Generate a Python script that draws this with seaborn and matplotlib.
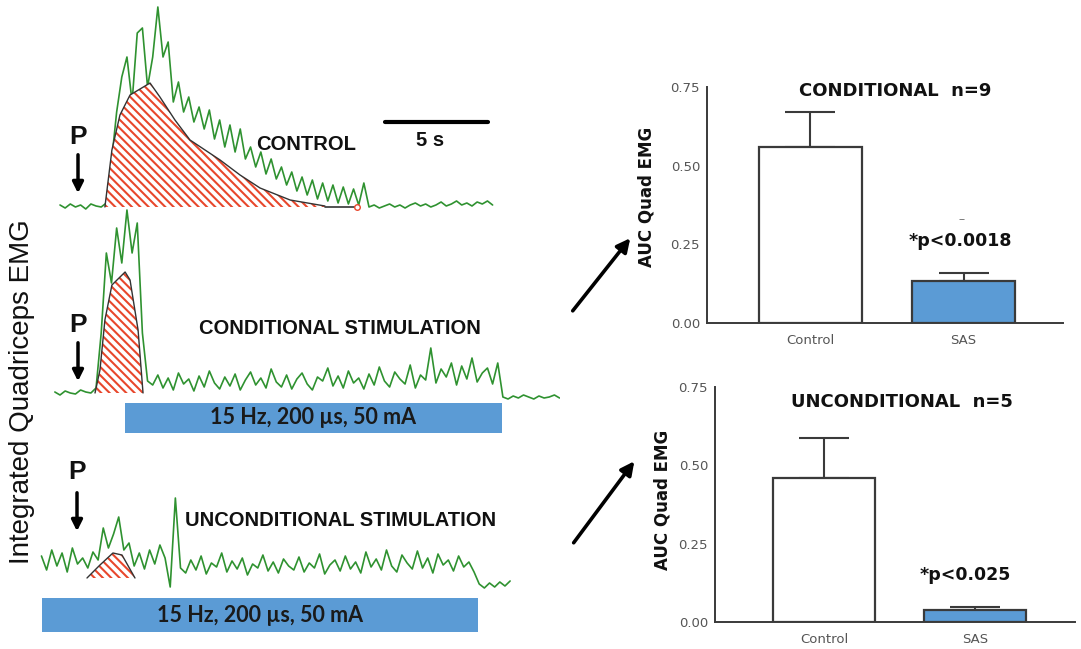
import numpy as np
import pandas as pd
import matplotlib
matplotlib.use("Agg")
import matplotlib.pyplot as plt
from matplotlib.patches import Rectangle
import seaborn as sns

# ---------------- EMG traces (amplitude above baseline, sampled every 0.25 s) ----------------
dt = 0.25

control_t0 = 0.0
control_emg = [2, -1, 3, 0, 2, -2, 3, 1, 0,
               4, 45, 95, 130, 150, 105, 174, 179, 120, 150, 200, 150, 165, 105, 125, 95,
               110, 85, 100, 78, 97, 68, 87, 60, 82, 55, 78, 48, 60, 40, 55, 33, 48, 28,
               40, 22, 35, 16, 30, 12, 27, 8, 24, 6, 22, 4, 20, 3, 18, 2, 24, 0,
               2, -1, 1, 3, 0, 2, -1, 2, 4, 1, 3, 0, 2, 5, 1, 3, 6, 2, 4, 1, 5, 3, 6, 2]

cond_t0 = -0.25
cond_emg = [1, -2, 2, 0, -1, 3, 1, 0,
            5, 60, 140, 110, 165, 130, 183, 140, 170, 60, 12,
            8, 18, 5, 15, 3, 20, 9, 14, 2, 17, 6, 22, 10, 4, 16, 7, 19, 3, 13, 21,
            8, 15, 5, 24, 11, 6, 18, 4, 14, 20, 9, 3, 16, 12, 25, 7, 17, 5, 22, 10,
            15, 4, 19, 8, 26, 12, 6, 21, 14, 9, 28, 5, 18, 13, 45, 10, 24, 16, 30, 8,
            27, 14, 35, 11, 20, 25, 9, 30,
            -4, -6, -3, -5, -2, -4, -6, -3, -5, -4, -2, -5]

uncond_t0 = -0.9
uncond_emg = [22, 8, 28, 12, 25, 6, 30, 14, 20,
              10, 26, 18, 50, 30, 44, 61, 28, 35, 12, 25, 9, 28, 14, 33, 20, -9, 80, 10,
              5, 18, 8, 22, 4, 15, 11, 25, 6, 17, 9, 20, 3, 14, 10, 23, 7, 16, 5, 19,
              12, 8, 21, 6, 15, 10, 24, 4, 13, 18, 7, 22, 9, 16, 5, 26, 11, 19, 8, 28,
              12, 6, 23, 15, 9, 27, 10, 20, 5, 24, 13, 18, 7, 22, 11, 16, 6,
              -6, -10, -5, -9, -4, -8, -3]

# integrated area (AUC) outlines
control_auc_t = [2.18, 2.52, 2.91, 3.40, 4.37, 4.85, 5.58, 6.31, 7.04, 7.77, 8.74, 9.71, 11.17, 12.86]
control_auc_y = [0, 57, 92, 112, 124, 110, 87, 67, 57, 47, 32, 19, 7, 1]
control_tail_t = [12.86, 14.42]
cond_auc_t = [1.70, 1.94, 2.18, 2.52, 3.16, 3.40, 3.79, 4.03]
cond_auc_y = [0, 23, 73, 108, 121, 113, 63, 0]
uncond_auc_t = [1.31, 1.94, 2.57, 3.01, 3.64]
uncond_auc_y = [0, 13, 25, 23, 0]

stim_cond = (3.16, 21.46)
stim_uncond = (-0.87, 20.29)
stim_label = "15 Hz, 200 \u00b5s, 50 mA"
scale_bar_s = 5

# ---------------- AUC bar charts ----------------
groups = ["Control", "SAS"]
cond_mean = [0.56, 0.135]
cond_sem = [0.11, 0.025]
uncond_mean = [0.46, 0.038]
uncond_sem = [0.127, 0.010]

green = "#2f9230"
red = "#e8472c"
blue = "#5b9bd5"
dark = "#3a3a3a"

sns.set_style("white")
plt.rcParams["font.family"] = ["DejaVu Sans"]
plt.rcParams["hatch.linewidth"] = 1.5

W, H = 1081, 649
fig = plt.figure(figsize=(W / 100, H / 100), dpi=100)


def fbox(x0, y0, x1, y1):
    return [x0 / W, 1 - y1 / H, (x1 - x0) / W, (y1 - y0) / H]


xlim_t = ((0 - 60) / 20.6, (560 - 60) / 20.6)


def trace_axes(box, ylim, t0, emg, auc_t, auc_y):
    ax = fig.add_axes(box)
    t = t0 + dt * np.arange(len(emg))
    sns.lineplot(x=t, y=emg, ax=ax, color=green, lw=1.2, estimator=None, sort=False, zorder=2)
    ax.fill_between(auc_t, 0, auc_y, facecolor="white", edgecolor=red, hatch="\\\\\\\\", lw=0, zorder=3)
    ax.plot(auc_t, auc_y, color="#333333", lw=1.0, zorder=4)
    ax.set_xlim(*xlim_t)
    ax.set_ylim(*ylim)
    ax.axis("off")
    return ax


ax_c = trace_axes(fbox(0, 0, 560, 215), (-8, 207), control_t0, control_emg, control_auc_t, control_auc_y)
ax_c.plot(control_tail_t, [0, 0], color="#333333", lw=1.2, zorder=4)
ax_c.plot(control_tail_t[-1:], [0], "o", mfc="white", mec=red, ms=4, zorder=5)
ax_c.plot([15.78, 15.78 + scale_bar_s], [85, 85], color="black", lw=3)

ax_s = trace_axes(fbox(0, 200, 560, 440), (-47, 193), cond_t0, cond_emg, cond_auc_t, cond_auc_y)
ax_s.add_patch(Rectangle((stim_cond[0], -40), stim_cond[1] - stim_cond[0], 30, color=blue, lw=0))

ax_u = trace_axes(fbox(0, 440, 560, 649), (-71, 138), uncond_t0, uncond_emg, uncond_auc_t, uncond_auc_y)
ax_u.add_patch(Rectangle((stim_uncond[0], -54), stim_uncond[1] - stim_uncond[0], 34, color=blue, lw=0))

# overlay in pixel coordinates for annotations
ov = fig.add_axes([0, 0, 1, 1], zorder=10)
ov.set_xlim(0, W)
ov.set_ylim(H, 0)
ov.axis("off")

lab = dict(family="Liberation Sans", fontweight="bold", color="#111111", va="center")
ov.text(306, 145, "CONTROL", ha="center", fontsize=14.5, **lab)
ov.text(430, 140, "5 s", ha="center", fontsize=14.5, **lab)
ov.text(340, 329, "CONDITIONAL STIMULATION", ha="center", fontsize=14.5, **lab)
ov.text(341, 521, "UNCONDITIONAL STIMULATION", ha="center", fontsize=14.5, **lab)
ov.text(22, 392, "Integrated Quadriceps EMG", rotation=90, ha="center", va="center",
        family="Liberation Sans", fontsize=20, color="#111111")

for x, yp, y0, y1 in [(78, 137, 152, 196), (78, 325, 340, 384), (77, 472, 490, 534)]:
    ov.text(x, yp, "P", ha="center", fontsize=19, **lab)
    ov.annotate("", xy=(x, y1), xytext=(x, y0),
                arrowprops=dict(arrowstyle="-|>", color="black", lw=2.5, mutation_scale=16))

stim_kw = dict(family="Lato", fontweight="bold", fontsize=15.5, color="#1a1a1a", ha="center", va="center")
ov.text(313, 418, stim_label, **stim_kw)
ov.text(260, 615, stim_label, **stim_kw)

for p0, p1 in [((571, 313), (632, 236)), ((572, 545), (636, 459))]:
    ov.annotate("", xy=p1, xytext=p0,
                arrowprops=dict(arrowstyle="-|>", color="black", lw=2.6, mutation_scale=20))


def bar_axes(box, xlim, means, sems):
    ax = fig.add_axes(box)
    df = pd.DataFrame({"group": groups, "auc": means})
    sns.barplot(data=df, x="group", y="auc", hue="group", palette=["white", blue], saturation=1,
                edgecolor=dark, linewidth=1.6, width=0.675, errorbar=None, legend=False, ax=ax, zorder=3)
    ax.errorbar([0, 1], means, yerr=[[0, 0], sems], fmt="none", ecolor=dark, elinewidth=1.5,
                capsize=18, capthick=1.5, zorder=2)
    ax.set_xlim(*xlim)
    ax.set_ylim(0, 0.75)
    ax.set_yticks([0, 0.25, 0.5, 0.75])
    ax.set_yticklabels([f"{v:.2f}" for v in [0, 0.25, 0.5, 0.75]])
    ax.set_xlabel("")
    ax.set_ylabel("")
    sns.despine(ax=ax)
    for s in ["left", "bottom"]:
        ax.spines[s].set_color(dark)
        ax.spines[s].set_linewidth(1.4)
    ax.tick_params(axis="y", length=4, width=1.3, color=dark, labelsize=9.5, labelcolor="#555555", pad=1)
    ax.tick_params(axis="x", length=0, labelsize=9.5, labelcolor="#555555", pad=8)
    return ax


bar_axes(fbox(707, 87, 1063, 323), (-0.676, 1.65), cond_mean, cond_sem)
bar_axes(fbox(715, 387, 1075, 622), (-0.722, 1.662), uncond_mean, uncond_sem)

bt = dict(family="DejaVu Sans", fontweight="bold", color="#111111", ha="center", va="center")
ov.text(895, 91, "CONDITIONAL  n=9", fontsize=13, **bt)
ov.text(902, 402, "UNCONDITIONAL  n=5", fontsize=13, **bt)
ov.text(960, 241, "*p<0.0018", fontsize=12.5, **bt)
ov.text(962, 219, "--", fontsize=7, color="#666666", ha="center", va="center")
ov.text(965, 575, "*p<0.025", fontsize=12.5, **bt)
ov.text(647, 197, "AUC Quad EMG", rotation=90, fontsize=12, **bt)
ov.text(663, 500, "AUC Quad EMG", rotation=90, fontsize=12, **bt)

fig.savefig("out.png", dpi=100)
